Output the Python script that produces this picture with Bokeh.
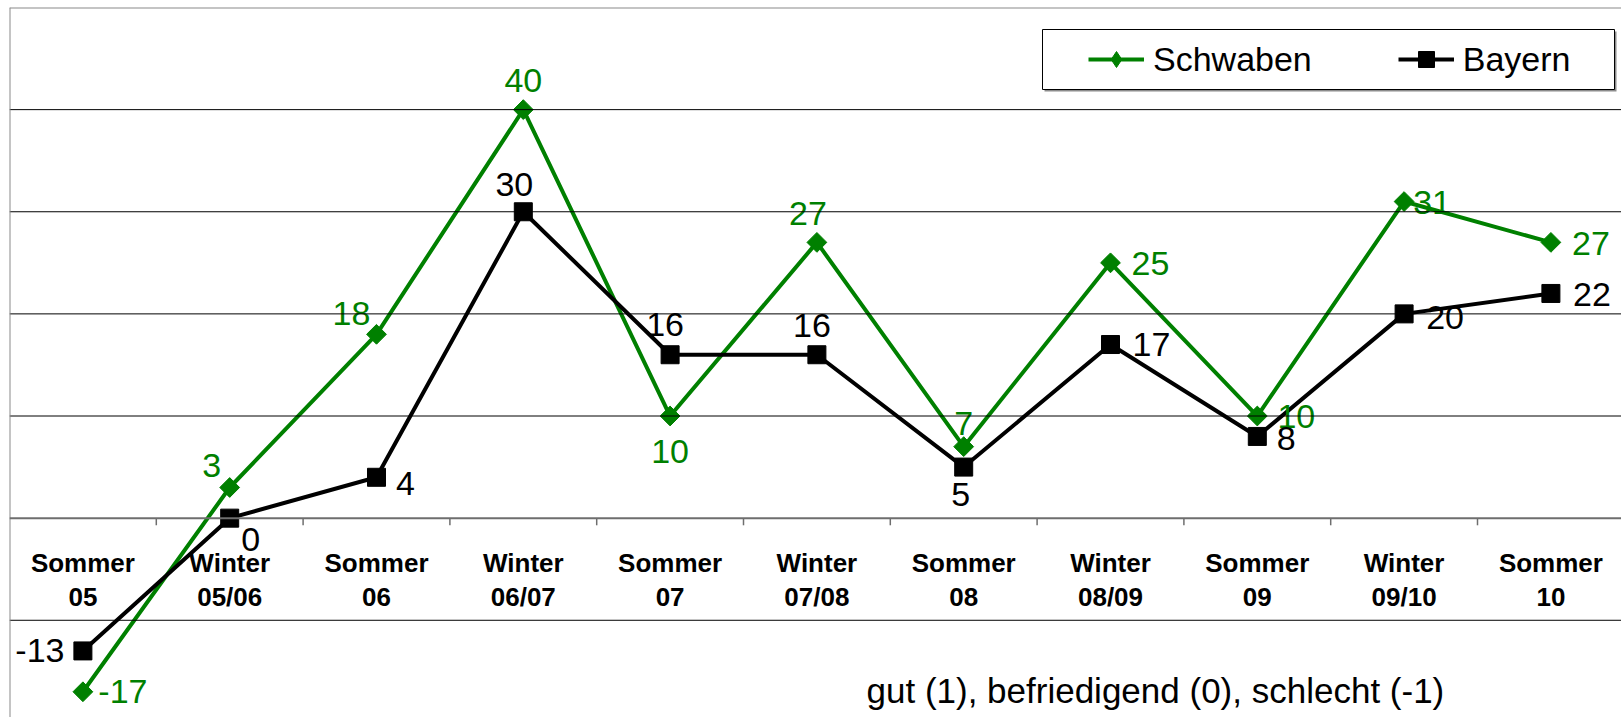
import numpy as np
from bokeh.plotting import figure
from bokeh.models import (Range1d, Span, Label, Legend, LegendItem, BoxAnnotation,
                          ColumnDataSource)
from bokeh.core.properties import value
from bokeh.embed import file_html
from bokeh.resources import INLINE

# ---- data ----
seasons = ["Sommer", "Winter", "Sommer", "Winter", "Sommer", "Winter",
           "Sommer", "Winter", "Sommer", "Winter", "Sommer"]
years = ["05", "05/06", "06", "06/07", "07", "07/08", "08", "08/09", "09", "09/10", "10"]
schwaben = [-17, 3, 18, 40, 10, 27, 7, 25, 10, 31, 27]
bayern = [-13, 0, 4, 30, 16, 16, 5, 17, 8, 20, 22]
gridlines = [-10, 10, 20, 30, 40]
note = "gut (1), befriedigend (0), schlecht (-1)"

# ---- label placement (pixel offsets from each point) ----
schwaben_dx = [40, -18, -25, 0, 0, -9, 0, 40, 39, 28, 40]
schwaben_dy = [0, -22, -21, -29, 35, -29, -23, 1, 0, 1, 1]
bayern_dx = [-43, 21, 29, -9, -5, -5, -3, 41, 29, 41, 41]
bayern_dy = [0, 21, 6, -27, -30, -29, 27, 0, 2, 4, 1]

GREEN = "#008000"
FONT = "Liberation Sans"
n = len(seasons)
xs = [i + 0.5 for i in range(n)]

W, H = 1621, 717
LEFT, TOP = 9, 7
cat_px = 146.8
p = figure(width=W, height=H, output_backend="svg", toolbar_location=None,
           x_range=Range1d(0, (W - LEFT) / cat_px), y_range=Range1d(-19.52, 50),
           x_axis_type=None, y_axis_type=None,
           min_border_left=LEFT, min_border_right=0, min_border_top=TOP, min_border_bottom=0)
p.outline_line_color = None
p.background_fill_color = "white"
p.border_fill_color = "white"

# grid lines
for g in gridlines:
    p.add_layout(Span(location=g, dimension="width", line_color="#000000", line_width=1))
# plot area border (top, left)
p.add_layout(Span(location=50, dimension="width", line_color="#8a8a8a", line_width=2))
p.add_layout(Span(location=0, dimension="height", line_color="#8a8a8a", line_width=2))
# category axis at zero
p.add_layout(Span(location=0, dimension="width", line_color="#6e6e6e", line_width=2))
bounds = list(range(1, n))
p.segment(x0=bounds, y0=[0] * len(bounds), x1=bounds, y1=[-0.7] * len(bounds),
          line_color="#6e6e6e", line_width=1.5)

# category labels
p.text(x=xs, y=[0] * n, text=seasons, y_offset=45, text_align="center",
       text_baseline="alphabetic", text_font=value(FONT), text_font_style="bold",
       text_font_size="26px", text_color="black")
p.text(x=xs, y=[0] * n, text=years, y_offset=79, text_align="center",
       text_baseline="alphabetic", text_font=value(FONT), text_font_style="bold",
       text_font_size="26px", text_color="black")

# series
l1 = p.line(xs, schwaben, line_color=GREEN, line_width=4)
# small diamond hidden under the first marker, used for the legend symbol
d1 = p.scatter(xs[:1], schwaben[:1], marker="diamond", size=12,
               fill_color=GREEN, line_color=GREEN)
m1 = p.scatter(xs, schwaben, marker="square", angle=np.pi / 4, size=14,
               fill_color=GREEN, line_color=GREEN)
l2 = p.line(xs, bayern, line_color="black", line_width=4)
m2 = p.scatter(xs, bayern, marker="square", size=18, fill_color="black", line_color="black")

# data labels
src_s = ColumnDataSource(dict(x=xs, y=schwaben, t=[str(v) for v in schwaben],
                              dx=schwaben_dx, dy=schwaben_dy))
src_b = ColumnDataSource(dict(x=xs, y=bayern, t=[str(v) for v in bayern],
                              dx=bayern_dx, dy=bayern_dy))
p.text(x="x", y="y", text="t", x_offset="dx", y_offset="dy", source=src_s,
       text_align="center", text_baseline="middle", text_font=value(FONT),
       text_font_size="34px", text_color=GREEN)
p.text(x="x", y="y", text="t", x_offset="dx", y_offset="dy", source=src_b,
       text_align="center", text_baseline="middle", text_font=value(FONT),
       text_font_size="34px", text_color="black")

# note
p.add_layout(Label(x=857, y=27, x_units="screen", y_units="screen", text=note,
                   text_font=FONT, text_font_size="35px", text_baseline="middle",
                   text_align="left", text_color="black"))

# legend frame (with shadow) + legend
p.add_layout(BoxAnnotation(left=1035, right=1607, top=686, bottom=626,
                           left_units="screen", right_units="screen",
                           top_units="screen", bottom_units="screen",
                           fill_color="#8c8c8c", fill_alpha=1, line_alpha=0))
p.add_layout(BoxAnnotation(left=1033, right=1605, top=688, bottom=628,
                           left_units="screen", right_units="screen",
                           top_units="screen", bottom_units="screen",
                           fill_color="white", fill_alpha=1, line_color="black",
                           line_width=1, line_alpha=1))
legend = Legend(items=[LegendItem(label="Schwaben", renderers=[l1, d1]),
                       LegendItem(label="Bayern", renderers=[l2, m2])],
                orientation="horizontal", location=(1069, 628), padding=10,
                spacing=86, glyph_width=56, glyph_height=40, label_standoff=9,
                label_text_font=FONT, label_text_font_size="34px",
                label_text_color="black",
                border_line_alpha=0, background_fill_alpha=0, margin=0)
p.add_layout(legend)

open("out.html", "w").write(file_html(p, INLINE))
